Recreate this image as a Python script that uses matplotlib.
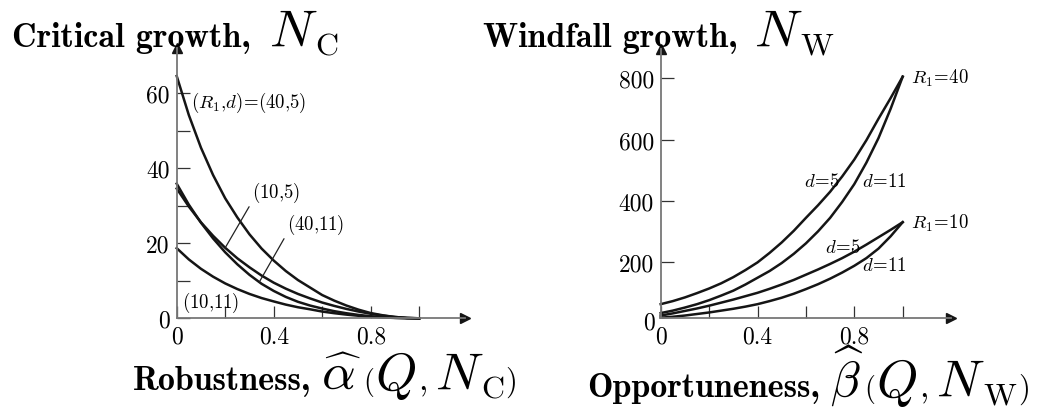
import numpy as np
import matplotlib
matplotlib.use("Agg")
import matplotlib.pyplot as plt

# ---------------- data ----------------
x_grid = [0.00, 0.05, 0.10, 0.15, 0.20, 0.25, 0.30, 0.35, 0.40, 0.45, 0.50,
          0.55, 0.60, 0.65, 0.70, 0.75, 0.80, 0.85, 0.90, 0.95, 1.00]

# critical growth N_C vs robustness
nc_40_5 = [64.6, 54.2, 45.5, 38.2, 32.0, 26.9, 22.4, 18.6, 15.4, 12.6, 10.2,
           8.2, 6.2, 4.7, 3.4, 2.3, 1.4, 0.8, 0.35, 0.1, 0.0]
nc_10_5 = [34.6, 29.8, 25.6, 22.0, 18.8, 16.0, 13.6, 11.4, 9.5, 7.9, 6.5,
           5.3, 4.2, 3.3, 2.5, 1.8, 1.2, 0.7, 0.35, 0.1, 0.0]
nc_40_11 = [35.9, 30.3, 25.5, 21.3, 17.6, 14.4, 11.6, 9.2, 7.3, 5.7, 4.4,
            3.4, 2.6, 1.9, 1.35, 0.9, 0.55, 0.3, 0.13, 0.03, 0.0]
nc_10_11 = [18.7, 15.7, 13.2, 11.1, 9.3, 7.8, 6.5, 5.4, 4.5, 3.65, 2.95,
            2.4, 1.8, 1.36, 0.98, 0.67, 0.41, 0.23, 0.1, 0.03, 0.0]

# windfall growth N_W vs opportuneness
nw_40_5 = [64, 74, 86, 100, 115, 132, 152, 175, 200, 231, 265,
           303, 345, 386, 430, 480, 535, 598, 668, 735, 805]
nw_40_11 = [35, 43, 53, 64, 77, 92, 108, 128, 150, 172, 198,
            228, 262, 301, 345, 397, 455, 525, 605, 700, 805]
nw_10_5 = [27, 34, 42, 50, 59, 69, 79, 90, 101, 114, 128,
           143, 160, 177, 195, 214, 235, 258, 282, 306, 331]
nw_10_11 = [20, 23, 27, 32, 37, 43, 49, 56, 64, 74, 85,
            98, 113, 129, 147, 167, 189, 214, 245, 285, 331]

x_ticks = [0, 0.2, 0.4, 0.6, 0.8, 1.0]
x_ticklabels = ["0", "", "0.4", "", "0.8", ""]
nc_ticks = [0, 10, 20, 30, 40, 50, 60]
nc_ticklabels = ["0", "", "20", "", "40", "", "60"]
nw_ticks = [200, 400, 600, 800]
nw_ticklabels = ["200", "400", "600", "800"]

# ---------------- style ----------------
plt.rcParams.update({
    "font.family": "serif",
    "font.serif": ["cmr10"],
    "mathtext.fontset": "cm",
    "axes.unicode_minus": False,
    "axes.formatter.use_mathtext": True,
})

W, H = 1042, 410
fig = plt.figure(figsize=(W / 100, H / 100), dpi=100)

AX_COL = "#777777"
LINE_COL = "#151515"
ANN = 13.5


def px_axes(left, bottom, right, top):
    return fig.add_axes([left / W, 1 - bottom / H, (right - left) / W, (bottom - top) / H])


def style_axes(ax):
    for s in ("top", "right"):
        ax.spines[s].set_visible(False)
    for s in ("left", "bottom"):
        ax.spines[s].set_color(AX_COL)
        ax.spines[s].set_linewidth(1.3)
    ax.tick_params(direction="in", length=9, width=0.9, color="#333333",
                   labelsize=17, pad=5)
    # arrow heads
    ax.plot(1, 0, marker=">", ms=7, color="#151515", transform=ax.transAxes, clip_on=False)
    ax.plot(0, 1, marker="^", ms=7, color="#151515", transform=ax.transAxes, clip_on=False)


# ---- left: critical growth ----
ax1 = px_axes(176.7, 319.3, 176.7 + 1.19 * 242.5, 319.3 - 72 * 3.75)
ax1.set_xlim(0, 1.19)
ax1.set_ylim(0, 72)
style_axes(ax1)
for ys in (nc_40_5, nc_10_5, nc_40_11, nc_10_11):
    ax1.plot(x_grid, ys, color=LINE_COL, lw=1.8, clip_on=False)
ax1.set_xticks(x_ticks)
ax1.set_xticklabels(x_ticklabels)
ax1.set_yticks(nc_ticks)
ax1.set_yticklabels(nc_ticklabels)

ax1.text(0.058, 57.6, r"$(R_1{,}d)\!=\!(40{,}5)$", fontsize=ANN, ha="left", va="center")
ax1.annotate(r"$(10{,}5)$", xy=(0.2, 18.8), xytext=(0.31, 33.6), fontsize=ANN,
             ha="left", va="center",
             arrowprops=dict(arrowstyle="-", lw=0.9, color="#222222",
                             relpos=(0.0, 0.1), shrinkA=0, shrinkB=0))
ax1.annotate(r"$(40{,}11)$", xy=(0.34, 9.6), xytext=(0.454, 25.1), fontsize=ANN,
             ha="left", va="center",
             arrowprops=dict(arrowstyle="-", lw=0.9, color="#222222",
                             relpos=(0.0, 0.1), shrinkA=0, shrinkB=0))
ax1.text(0.021, 4.3, r"$(10{,}11)$", fontsize=ANN, ha="left", va="center")

# ---- right: windfall growth ----
ax2 = px_axes(660.7, 319.3, 660.7 + 1.2 * 242, 50.0)
ax2.set_xlim(0, 1.2)
ax2.set_ylim(18, 895)
style_axes(ax2)
for ys in (nw_40_5, nw_40_11, nw_10_5, nw_10_11):
    ax2.plot(x_grid, ys, color=LINE_COL, lw=1.8, clip_on=False)
ax2.set_xticks(x_ticks)
ax2.set_xticklabels(x_ticklabels)
ax2.set_yticks(nw_ticks)
ax2.set_yticklabels(nw_ticklabels)
ax2.text(-0.025, 5, "0", fontsize=17, ha="right", va="center", clip_on=False)

ax2.text(1.034, 804, r"$R_1\!=\!40$", fontsize=ANN, ha="left", va="center")
ax2.text(1.034, 331, r"$R_1\!=\!10$", fontsize=ANN, ha="left", va="center")
ax2.text(0.741, 466, r"$d\!=\!5$", fontsize=ANN, ha="right", va="center")
ax2.text(0.83, 466, r"$d\!=\!11$", fontsize=ANN, ha="left", va="center")
ax2.text(0.679, 249, r"$d\!=\!5$", fontsize=ANN, ha="left", va="center")
ax2.text(0.83, 191, r"$d\!=\!11$", fontsize=ANN, ha="left", va="center")

# ---------------- titles / axis labels built from pieces ----------------
renderer = fig.canvas.get_renderer()


def chain(x_px, base_px, parts):
    x = x_px
    for s, size, dy, gap, fam in parts:
        x += gap
        kw = {"family": fam} if fam else {}
        t = fig.text(x / W, 1 - (base_px + dy) / H, s, fontsize=size,
                     ha="left", va="baseline", **kw)
        x = t.get_window_extent(renderer=renderer).x1


BOLD = 24.5
chain(12, 46.7, [
    ("Critical growth,", BOLD, 0, 0, "cmb10"),
    (r"$N$", 38, 0, 18, None),
    (r"$\mathrm{C}$", 23, 8, -2, None),
])
chain(483, 46.7, [
    ("Windfall growth,", BOLD, 0, 0, "cmb10"),
    (r"$N$", 38, 0, 16, None),
    (r"$\mathrm{W}$", 23, 8, -2, None),
])
chain(133, 390, [
    ("Robustness,", BOLD, 0, 0, "cmb10"),
    (r"$\widehat{\alpha}$", 38, 0, 10, None),
    (r"$($", 20, 0, 1, None),
    (r"$Q$", 38, 0, 1, None),
    (r"$,$", 24, 0, 2, None),
    (r"$N$", 38, 0, 8, None),
    (r"$\mathrm{C}$", 23, 8, -2, None),
    (r"$)$", 22, 0, 1, None),
])
chain(587, 397, [
    ("Opportuneness,", BOLD, 0, 0, "cmb10"),
    (r"$\widehat{\beta}$", 35, 0, 10, None),
    (r"$($", 20, 0, 1, None),
    (r"$Q$", 38, 0, 1, None),
    (r"$,$", 24, 0, 2, None),
    (r"$N$", 38, 0, 8, None),
    (r"$\mathrm{W}$", 23, 8, -2, None),
    (r"$)$", 22, 0, 1, None),
])

fig.savefig("out.png", dpi=100)
